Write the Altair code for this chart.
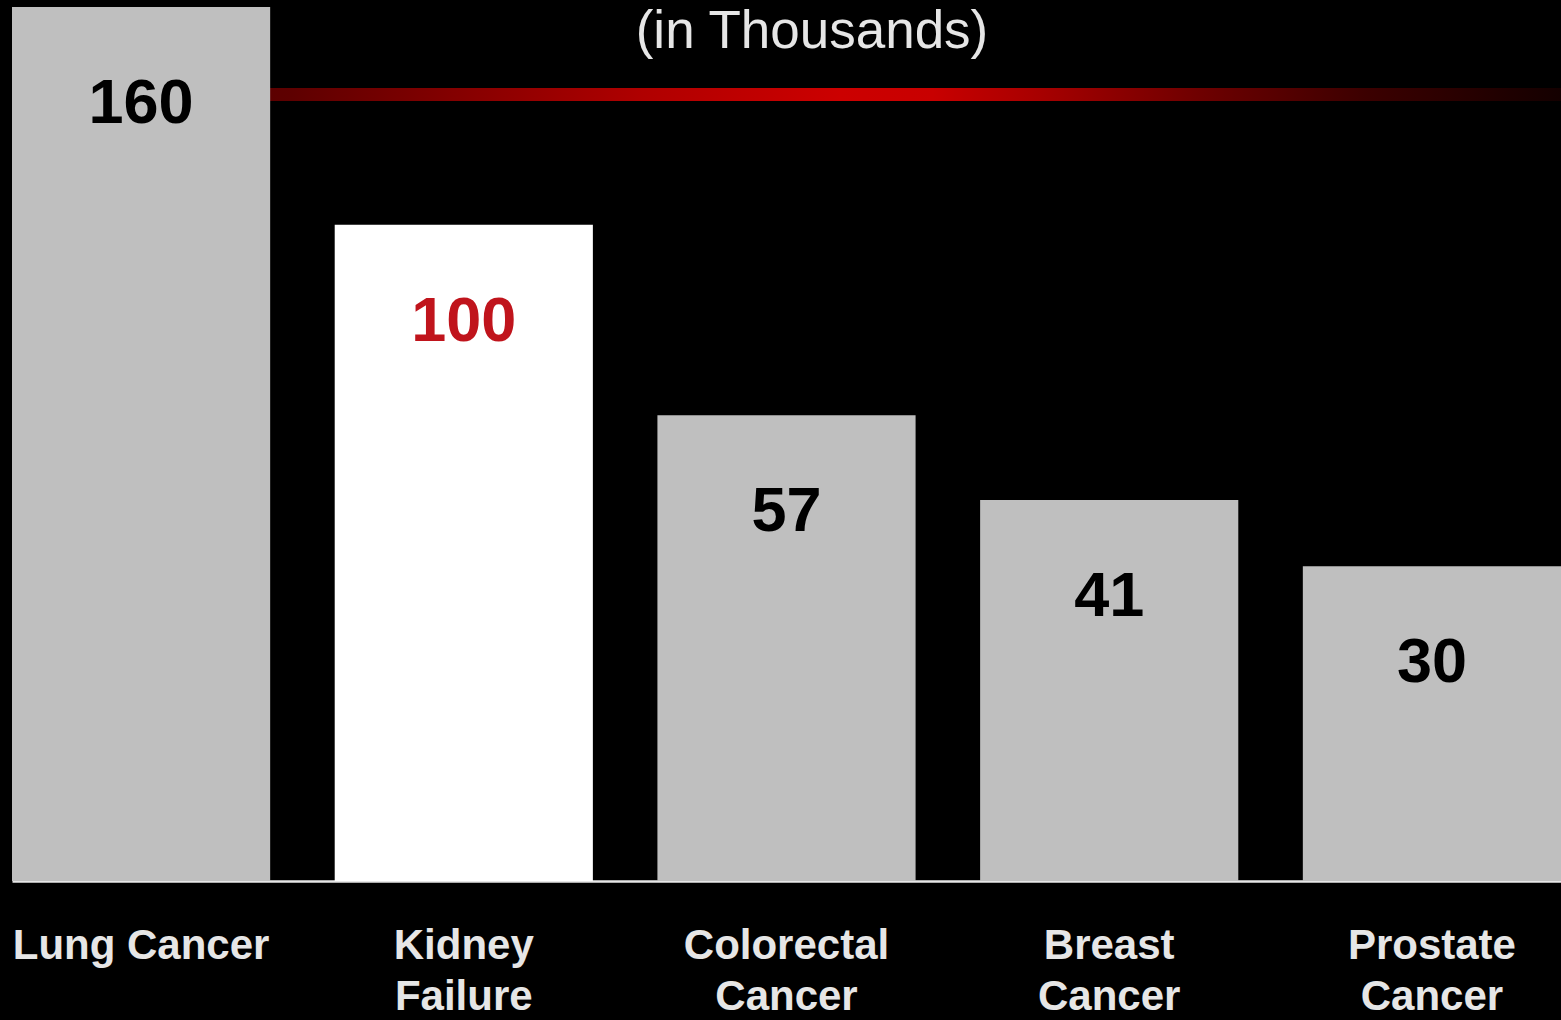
import altair as alt
import pandas as pd

# Estimated deaths per year, in thousands
categories = ["Lung Cancer", "Kidney Failure", "Colorectal Cancer", "Breast Cancer", "Prostate Cancer"]
deaths_thousands = [160, 100, 57, 41, 30]
highlighted = ["Kidney Failure"]
subtitle_text = ["(in Thousands)"]

FONT = "Liberation Sans"

df = pd.DataFrame({"cause": categories, "deaths": deaths_thousands})
df["highlight"] = df["cause"].isin(highlighted)

is_highlight = alt.datum.highlight == True

x_enc = alt.X(
    "cause:N",
    sort=categories,
    title=None,
    scale=alt.Scale(paddingInner=0.2, paddingOuter=0),
    axis=alt.Axis(
        labelExpr="datum.label == 'Lung Cancer' ? datum.label : split(datum.label, ' ')",
        labelAngle=0,
        labelFont=FONT,
        labelFontSize=42,
        labelFontWeight="bold",
        labelColor="#e6e6e6",
        labelBaseline="top",
        labelPadding=44,
        labelLineHeight=51,
        labelLimit=0,
        ticks=False,
        tickSize=0,
        domainColor="#e6e6e6",
        domainWidth=2.5,
        grid=False,
    ),
)
y_enc = alt.Y(
    "deaths:Q",
    scale=alt.Scale(type="pow", exponent=0.61, domain=[0, 160], nice=False),
    axis=None,
)

base = alt.Chart(df)

bars = base.mark_bar().encode(
    x=x_enc,
    y=y_enc,
    color=alt.condition(is_highlight, alt.value("#ffffff"), alt.value("#bfbfbf")),
)

values = base.mark_text(
    font=FONT, fontSize=63, fontWeight="bold", baseline="middle", align="center", dy=97
).encode(
    x=x_enc,
    y=y_enc,
    text="deaths:Q",
    color=alt.condition(is_highlight, alt.value("#c0141c"), alt.value("#000000")),
)

# Red accent stripe under the subtitle
stripe = alt.Chart(pd.DataFrame({"k": [0]})).mark_rect(
    fill=alt.LinearGradient(
        gradient="linear",
        x1=0, x2=1, y1=0, y2=0,
        stops=[
            alt.GradientStop(color="#5a0000", offset=0),
            alt.GradientStop(color="#5e0000", offset=0.03),
            alt.GradientStop(color="#b00000", offset=0.3),
            alt.GradientStop(color="#cc0000", offset=0.45),
            alt.GradientStop(color="#c80000", offset=0.52),
            alt.GradientStop(color="#a80000", offset=0.6),
            alt.GradientStop(color="#700000", offset=0.72),
            alt.GradientStop(color="#3c0000", offset=0.85),
            alt.GradientStop(color="#140000", offset=1),
        ],
    )
).encode(
    x=alt.value(240), x2=alt.value(1549), y=alt.value(81), y2=alt.value(94)
)

subtitle = alt.Chart(pd.DataFrame({"t": subtitle_text})).mark_text(
    font=FONT, fontSize=53, color="#e6e6e6", baseline="alphabetic", align="center"
).encode(
    text="t:N", x=alt.value(800), y=alt.value(41)
)

chart = (
    alt.layer(stripe, bars, values, subtitle)
    .properties(
        width=1549,
        height=874,
        padding={"left": 12, "top": 7, "right": 0, "bottom": 139},
        autosize="none",
        background="#000000",
    )
    .configure_view(stroke=None)
)

chart.save("out.html", embed_options={"renderer": "svg", "actions": False})
